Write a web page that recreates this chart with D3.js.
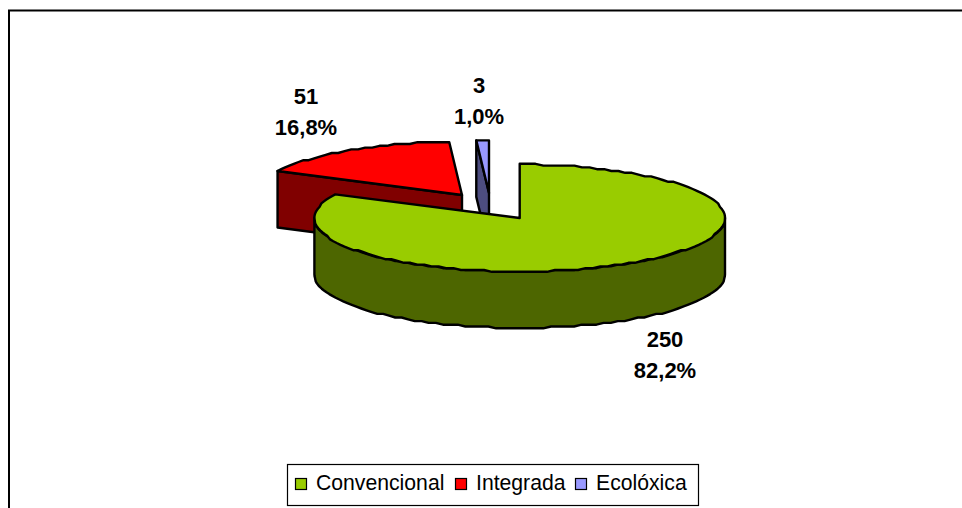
<!DOCTYPE html>
<html><head><meta charset="utf-8">
<script src="https://cdn.jsdelivr.net/npm/d3@7/dist/d3.min.js"></script>
<style>html,body{margin:0;padding:0;background:#fff}svg{display:block}text{font-family:"Liberation Sans",Arial,sans-serif;fill:#000}</style>
</head><body><div id="c"></div>
<script>
const categories = ["Convencional","Integrada","Ecolóxica"];
const values = [250,51,3];
const percentLabels = ["82,2%","16,8%","1,0%"];
const topColors = ["#99CC00","#FF0000","#9999FF"];
const sideColors = ["#4D6600","#800000","#4D4D80"];

const W=962,H=508, rx=205.3, ry=53.5, depth=56.5;
const svg=d3.select("#c").append("svg").attr("width",W).attr("height",H);

svg.append("path").attr("d","M9,508V10.5H962").attr("fill","none").attr("stroke","#000").attr("stroke-width",2);

const arcs=d3.pie().sort(null).value(d=>d)(values);
const centers=[[519.7,218],[462,195],[489,193]];
const labelPos=[[665,340],[306,97],[479,86]];
const line=d3.line();
const pt=(c,a,dy=0)=>[c[0]+rx*Math.sin(a),Math.round((c[1]-ry*Math.cos(a))/1.8)*1.8+dy];
const arcPts=(c,a0,a1,dy=0)=>{
  const n=Math.max(2,Math.round(Math.abs(a1-a0)*26));
  return d3.range(0,n+1).map(i=>pt(c,a0+(a1-a0)*i/n,dy));
};
const g=svg.append("g").attr("stroke","#000").attr("stroke-width",2.4).attr("stroke-linejoin","round");

function slice(i){
  const a=arcs[i],c=centers[i],s=g.append("g");
  const a0=a.startAngle,a1=a.endAngle;
  const lo=Math.max(a0,Math.PI/2),hi=Math.min(a1,Math.PI*1.5);
  if(hi>lo){
    const up=arcPts(c,lo,hi),down=arcPts(c,hi,lo,depth);
    s.append("path").attr("d",line(up.concat(down))+"Z").attr("fill",sideColors[i]);
  }
  if(i>0){
    const p=pt(c,a0);
    s.append("path").attr("d",line([p,c,[c[0],c[1]+depth],[p[0],p[1]+depth]])+"Z").attr("fill",sideColors[i]);
  }
  s.append("path").attr("d",line([c].concat(arcPts(c,a0,a1)))+"Z").attr("fill",topColors[i]);
}
[1,2,0].forEach(slice);

const lab=svg.append("g").attr("text-anchor","middle").attr("font-size",22).attr("font-weight","bold");
values.forEach((v,i)=>{
  lab.append("text").attr("x",labelPos[i][0]).attr("y",labelPos[i][1]+7).text(v);
  lab.append("text").attr("x",labelPos[i][0]).attr("y",labelPos[i][1]+38).text(percentLabels[i]);
});

const lg=svg.append("g");
lg.append("rect").attr("x",287.5).attr("y",464.5).attr("width",411).attr("height",41).attr("fill","#fff").attr("stroke","#000").attr("stroke-width",1.2);
const legendX=[295,455,575];
categories.forEach((n,i)=>{
  lg.append("rect").attr("x",legendX[i]+.5).attr("y",478.5).attr("width",11).attr("height",11).attr("fill",topColors[i]).attr("stroke","#000").attr("stroke-width",1.2);
  lg.append("text").attr("x",legendX[i]+21).attr("y",490).attr("font-size",21.2).text(n);
});
</script></body></html>
